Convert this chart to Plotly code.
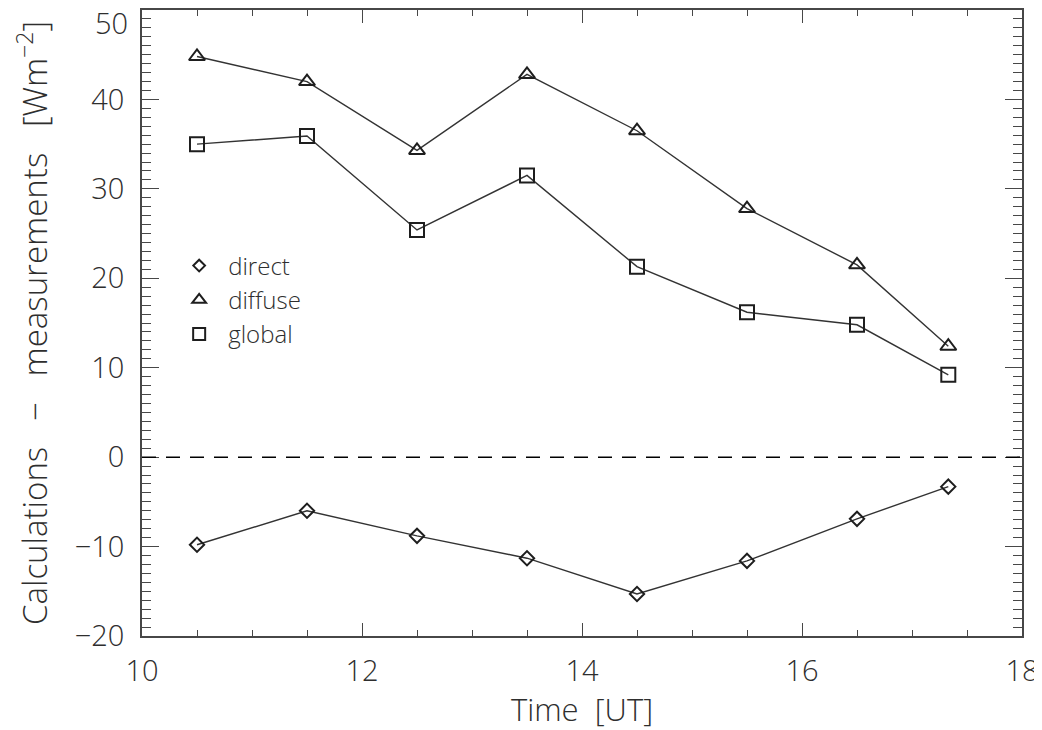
import plotly.graph_objects as go

time_ut = [10.5, 11.5, 12.5, 13.5, 14.5, 15.5, 16.5, 17.33]
direct = [-9.8, -6.0, -8.8, -11.3, -15.3, -11.6, -6.9, -3.3]
diffuse = [44.8, 42.0, 34.3, 42.8, 36.5, 27.8, 21.5, 12.4]
global_ = [35.0, 35.9, 25.4, 31.5, 21.3, 16.2, 14.8, 9.2]

y_ticks = [-20, -10, 0, 10, 20, 30, 40, 50]
y_ticktext = ["−20", "−10", "0", "10", "20", "30", "40", "50"]

series = [
    ("direct", direct, "diamond-open", 11),
    ("diffuse", diffuse, "triangle-up-open", 14),
    ("global", global_, "square-open", 14),
]

FONT = "Open Sans"
TXT = "#2e2e2e"
INK = "#1e1e1e"
AX = "#474747"

fig = go.Figure()

for name, vals, sym, sz in series:
    fig.add_trace(go.Scatter(
        x=time_ut, y=vals, mode="lines+markers", showlegend=False,
        line=dict(color="#333333", width=1.4),
        marker=dict(symbol=sym, size=sz, color=INK, line=dict(color=INK, width=2)),
    ))

# legend-only entries (markers only)
for name, vals, sym, sz in series:
    fig.add_trace(go.Scatter(
        x=[None], y=[None], mode="markers", name=name, showlegend=True,
        marker=dict(symbol=sym, size=sz - 2, color=INK, line=dict(color=INK, width=2)),
    ))

# zero line
fig.add_hline(y=0, line=dict(color="black", width=1.5, dash="14px,10px"))

axis_common = dict(
    showgrid=False, zeroline=False, showline=True, linecolor=AX, linewidth=1.6,
    mirror="allticks", ticks="inside", tickcolor=AX, tickwidth=1.3,
    tickfont=dict(family=FONT, size=29, color=TXT, weight=300),
    automargin=False, ticklabeloverflow="allow",
)

fig.update_xaxes(
    range=[10, 18], dtick=2, tick0=10, ticklen=13,
    minor=dict(dtick=0.5, ticks="inside", ticklen=6, tickcolor=AX, tickwidth=1.2),
    title=dict(text="Time  [UT]", font=dict(family=FONT, size=31, color=TXT, weight=300), standoff=9),
    ticklabelstandoff=8,
    **axis_common,
)
# top label is drawn as an annotation below (it would be clipped at the page edge)
fig.update_yaxes(
    range=[-20, 50], tickmode="array", tickvals=y_ticks,
    ticktext=y_ticktext[:-1] + [""], ticklen=17,
    minor=dict(dtick=1, ticks="inside", ticklen=9, tickcolor=AX, tickwidth=1.2),
    title=dict(text="Calculations   −   measurements   [Wm<sup>−2</sup>]",
               font=dict(family=FONT, size=33, color=TXT, weight=300), standoff=44),
    ticklabelstandoff=10,
    **axis_common,
)

fig.add_annotation(
    text=y_ticktext[-1], x=0, xref="paper", y=y_ticks[-1], yref="y",
    xanchor="right", yanchor="middle", xshift=-13, yshift=-12, showarrow=False,
    font=dict(family=FONT, size=29, color=TXT, weight=300), borderpad=0,
)

# page body adds an 8px margin; the figure starts at (8, 8) on the page
fig.update_layout(
    width=1034, height=722,
    margin=dict(l=134, r=20, t=2, b=94),
    paper_bgcolor="white", plot_bgcolor="white",
    legend=dict(
        x=0.032, y=0.627, xanchor="left", yanchor="top",
        bgcolor="rgba(0,0,0,0)", borderwidth=0,
        font=dict(family=FONT, size=24, color=TXT, weight=300),
        itemwidth=48, tracegroupgap=0,
    ),
)

fig.write_html("out.html")
